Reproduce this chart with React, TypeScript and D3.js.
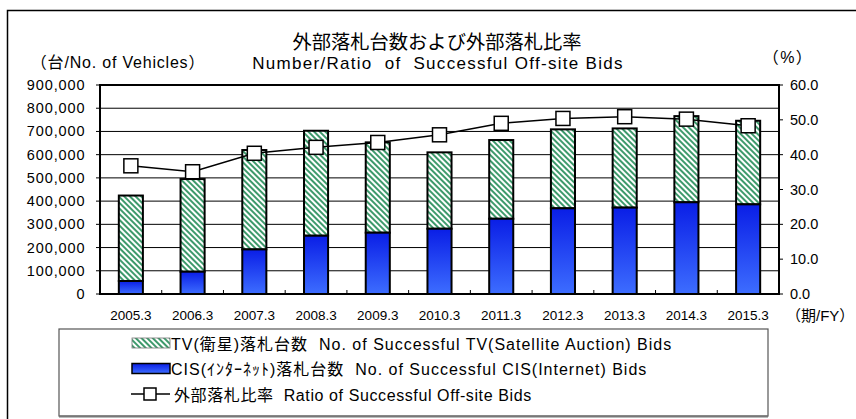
import React from "react";
import * as d3 from "d3";

const categories = ["2005.3","2006.3","2007.3","2008.3","2009.3","2010.3","2011.3","2012.3","2013.3","2014.3","2015.3"];
const cisBids = [56000, 96000, 192000, 251000, 264000, 281000, 324000, 369000, 372000, 395000, 386000];
const totalBids = [424000, 495000, 620000, 703000, 653000, 610000, 663000, 709000, 713000, 766000, 746000];
const ratio = [36.8, 35.1, 40.4, 42.1, 43.5, 45.7, 49.0, 50.4, 50.9, 50.2, 48.3];
const leftTicks = [0,100000,200000,300000,400000,500000,600000,700000,800000,900000];
const rightTicks = [0,10,20,30,40,50,60];

const FONT = "'Liberation Sans', Arial, 'Noto Sans CJK JP', sans-serif";

export default function App() {
  const W = 856, H = 419;
  const left = 100, right = 779, top = 85, bottom = 294;
  const x = d3.scaleBand<string>().domain(categories).range([left, right]).paddingInner(0.61).paddingOuter(0.305);
  const y = d3.scaleLinear().domain([0, 900000]).range([bottom, top]);
  const y2 = d3.scaleLinear().domain([0, 60]).range([bottom, top]);
  const fmt = d3.format(",");
  const line = d3.line<number>().x((_, i) => x(categories[i])! + x.bandwidth() / 2).y(d => y2(d));
  const step = x.step();

  return (
    <svg width={W} height={H} style={{ position: "absolute", left: 0, top: 0, fontFamily: FONT }}>
      <defs>
        <pattern id="hatch" patternUnits="userSpaceOnUse" width="4" height="4" patternTransform="rotate(-45)">
          <rect width="4" height="4" fill="#ffffff" />
          <rect width="2" height="4" fill="#3e9a6c" />
        </pattern>
        <linearGradient id="blue" x1="0" y1="0" x2="0" y2="1">
          <stop offset="0%" stopColor="#0a1ee6" />
          <stop offset="100%" stopColor="#3d6dff" />
        </linearGradient>
      </defs>
      <rect x={0} y={0} width={W} height={H} fill="#fff" />
      {/* outer frame */}
      <path d={`M7.5,${H} V10.5 H${W}`} fill="none" stroke="#000" strokeWidth={1.5} />

      {/* titles */}
      <text x={437} y={48.5} textAnchor="middle" fontSize={19.3} fontFamily="'Noto Sans CJK JP', sans-serif">外部落札台数および外部落札比率</text>
      <text x={438} y={69} textAnchor="middle" fontSize={17} letterSpacing={1.3} style={{ whiteSpace: "pre" }}>Number/Ratio  of  Successful Off-site Bids</text>
      <text x={118} y={68} textAnchor="middle" fontSize={16} letterSpacing={0.8}>（台/No. of Vehicles）</text>
      <text x={788} y={63} textAnchor="middle" fontSize={16} letterSpacing={1.5}>（%）</text>

      {/* gridlines */}
      {leftTicks.slice(1, -1).map(t => (
        <line key={t} x1={left} x2={right} y1={y(t)} y2={y(t)} stroke="#000" strokeWidth={1} />
      ))}

      {/* bars */}
      {categories.map((c, i) => (
        <g key={c}>
          <rect x={x(c)} y={y(totalBids[i])} width={x.bandwidth()} height={y(cisBids[i]) - y(totalBids[i])} fill="url(#hatch)" stroke="#000" strokeWidth={2} />
          <rect x={x(c)} y={y(cisBids[i])} width={x.bandwidth()} height={y(0) - y(cisBids[i])} fill="url(#blue)" stroke="#000" strokeWidth={2} />
        </g>
      ))}

      {/* plot frame */}
      <rect x={left} y={top} width={right - left} height={bottom - top} fill="none" stroke="#000" strokeWidth={2} />

      {/* left ticks */}
      {leftTicks.map(t => (
        <g key={t}>
          <line x1={left - 4} x2={left} y1={y(t)} y2={y(t)} stroke="#000" strokeWidth={1} />
          <text x={85.5} y={y(t) + 5} textAnchor="end" fontSize={14.5} letterSpacing={0.9}>{fmt(t)}</text>
        </g>
      ))}
      {/* right ticks */}
      {rightTicks.map(t => (
        <g key={t}>
          <line x1={right} x2={right + 4} y1={y2(t)} y2={y2(t)} stroke="#000" strokeWidth={1} />
          <text x={790} y={y2(t) + 5} textAnchor="start" fontSize={14.5}>{t.toFixed(1)}</text>
        </g>
      ))}
      {/* x ticks */}
      {categories.slice(1).map((c) => (
        <line key={c} x1={x(c)! - (step - x.bandwidth()) / 2} x2={x(c)! - (step - x.bandwidth()) / 2} y1={bottom} y2={bottom - 4} stroke="#000" strokeWidth={1} />
      ))}
      {categories.map(c => (
        <text key={c} x={x(c)! + x.bandwidth() / 2} y={320} textAnchor="middle" fontSize={13.5}>{c}</text>
      ))}
      <text x={786} y={321} fontSize={15}>（期/FY）</text>

      {/* ratio line */}
      <path d={line(ratio) || ""} fill="none" stroke="#000" strokeWidth={1.5} />
      {ratio.map((r, i) => (
        <rect key={i} x={x(categories[i])! + x.bandwidth() / 2 - 7} y={y2(r) - 7} width={14} height={14} fill="#fff" stroke="#000" strokeWidth={1.5} />
      ))}

      {/* legend */}
      <rect x={59} y={329} width={709} height={87} fill="#fff" stroke="#555" strokeWidth={1.2} />
      <line x1={59} x2={768} y1={416.5} y2={416.5} stroke="#777" strokeWidth={2} />
      <rect x={132} y={338} width={38} height={10} fill="url(#hatch)" stroke="#777" strokeWidth={0.8} />
      <text x={171} y={349.5} fontSize={16} letterSpacing={1} style={{ whiteSpace: "pre" }}>TV(衛星)落札台数  No. of Successful TV(Satellite Auction) Bids</text>
      <rect x={132} y={363.5} width={38} height={10} fill="url(#blue)" stroke="#000" strokeWidth={1.5} />
      <text x={171} y={375} fontSize={16} letterSpacing={1} style={{ whiteSpace: "pre" }}>CIS(ｲﾝﾀｰﾈｯﾄ)落札台数  No. of Successful CIS(Internet) Bids</text>
      <line x1={131} x2={170} y1={394} y2={394} stroke="#000" strokeWidth={1.5} />
      <rect x={144} y={388} width={12} height={12} fill="#fff" stroke="#000" strokeWidth={1.5} />
      <text x={174} y={400.5} fontSize={16} letterSpacing={0.6} style={{ whiteSpace: "pre" }}>外部落札比率  Ratio of Successful Off-site Bids</text>
    </svg>
  );
}
